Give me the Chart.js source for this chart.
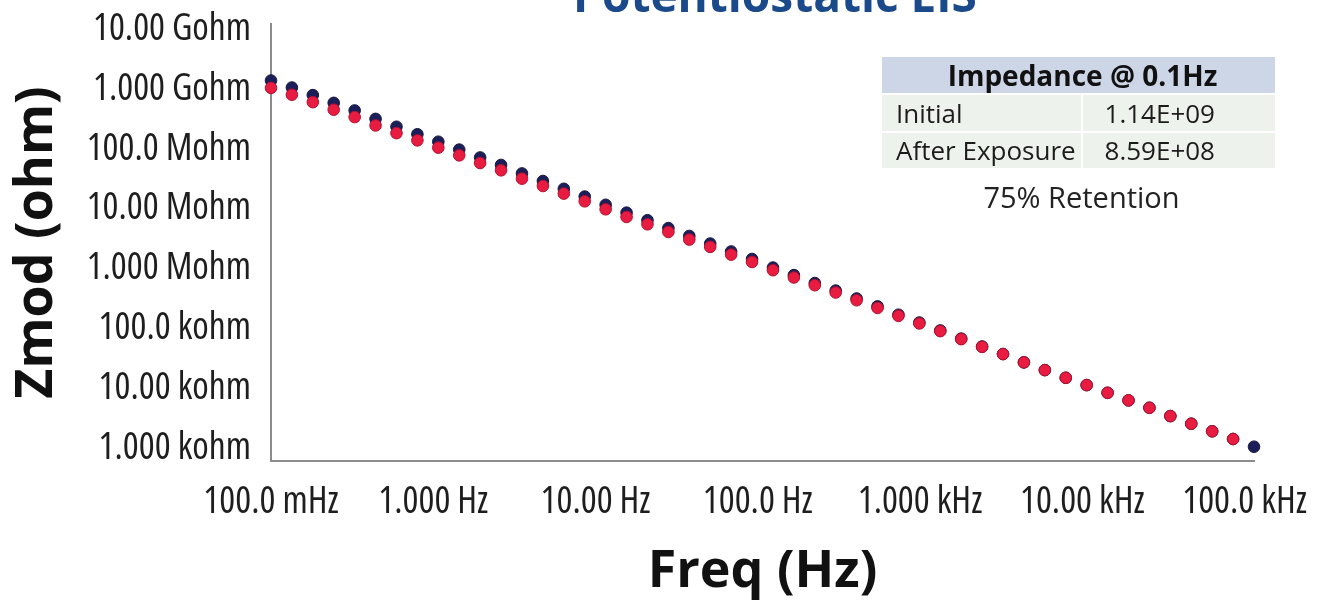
<!DOCTYPE html>
<html>
<head>
<meta charset="utf-8">
<script src="https://cdn.jsdelivr.net/npm/chart.js@4.4.1/dist/chart.umd.min.js"></script>
<style>
  html, body { margin: 0; padding: 0; background: #ffffff; overflow: hidden; }
  #wrap { position: relative; width: 1322px; height: 603px; }
  #plot { position: absolute; left: 0; top: 0; }
  .cell { position: absolute; box-sizing: border-box; font-family: "Open Sans", "Noto Sans", sans-serif; color: #1c1c1c; white-space: nowrap; }
  #hdr { left: 882px; top: 57px; width: 393px; height: 36px; background: #cdd6e7; font-weight: 700; font-size: 28px; line-height: 36px; text-align: center; padding-left: 8px; color: #111; }
  .lab { left: 882px; width: 199px; background: #eef2ec; font-size: 26px; padding-left: 14px; }
  .val { left: 1083px; width: 192px; background: #eef2ec; font-size: 26px; text-align: right; padding-right: 60px; }
  .r1 { top: 95px; height: 36px; line-height: 36px; }
  .r2 { top: 133px; height: 35px; line-height: 35px; }
  #ret { left: 882px; top: 177px; width: 393px; height: 40px; line-height: 40px; text-align: center; font-size: 29px; color: #222; padding-left: 6px; }
</style>
</head>
<body>
<div id="wrap">
  <canvas id="plot" width="1322" height="603"></canvas>
  <div class="cell" id="hdr"></div>
  <div class="cell lab r1" id="lab1"></div>
  <div class="cell val r1" id="val1"></div>
  <div class="cell lab r2" id="lab2"></div>
  <div class="cell val r2" id="val2"></div>
  <div class="cell" id="ret"></div>
</div>
<script>
// Frequencies of the sweep (Hz), plotted on a log axis
const freqHz = [0.1, 0.1345, 0.181, 0.2435, 0.3278, 0.441, 0.5934, 0.7985,
  1.0745, 1.4458, 1.9454, 2.6177, 3.5224, 4.7398, 6.3777, 8.5817,
  11.547, 15.538, 20.907, 28.132, 37.844, 50.923, 68.52, 92.2,
  124.06, 166.93, 224.62, 302.23, 406.68, 547.2, 736.3, 990.6,
  1333, 1794, 2413, 3247, 4369, 5879, 7910, 10644,
  14322, 19272, 25932, 34893, 46952, 63177, 85010, 114390];

// |Z| of the coating before exposure (ohm)
const zmodInitial = [1.14e9, 8.71e8, 6.51e8, 4.83e8, 3.61e8, 2.61e8, 1.93e8, 1.446e8,
  1.086e8, 8.02e7, 5.93e7, 4.45e7, 3.21e7, 2.40e7, 1.78e7, 1.32e7,
  9.62e6, 7.11e6, 5.32e6, 3.93e6, 2.91e6, 2.17e6, 1.60e6, 1.20e6,
  8.63e5, 6.46e5, 4.76e5, 3.56e5, 2.63e5, 1.94e5, 1.41e5, 1.045e5,
  7.71e4, 5.63e4, 4.16e4, 3.12e4, 2.26e4, 1.68e4, 1.25e4, 9.44e3,
  7.02e3, 5.25e3, 3.95e3, 2.87e3, 2.14e3, 1.60e3, 1.19e3, 885];

// |Z| of the coating after exposure (ohm)
const zmodExposed = [8.59e8, 6.61e8, 4.97e8, 3.72e8, 2.80e8, 2.03e8, 1.51e8, 1.144e8,
  8.64e7, 6.43e7, 4.79e7, 3.62e7, 2.63e7, 1.98e7, 1.48e7, 1.10e7,
  8.10e6, 6.03e6, 4.55e6, 3.39e6, 2.53e6, 1.91e6, 1.42e6, 1.07e6,
  7.79e5, 5.89e5, 4.38e5, 3.31e5, 2.46e5, 1.83e5, 1.35e5, 1.008e5,
  7.50e4, 5.52e4, 4.10e4, 3.10e4, 2.26e4, 1.68e4, 1.25e4, 9.44e3,
  7.02e3, 5.25e3, 3.95e3, 2.87e3, 2.14e3, 1.60e3, 1.19e3];

const xTickValues = [0.1, 1, 10, 100, 1000, 10000, 100000];
const xTickLabels = ['100.0 mHz', '1.000 Hz', '10.00 Hz', '100.0 Hz', '1.000 kHz', '10.00 kHz', '100.0 kHz'];
const yTickValues = [1e3, 1e4, 1e5, 1e6, 1e7, 1e8, 1e9, 1e10];
const yTickLabels = ['1.000 kohm', '10.00 kohm', '100.0 kohm', '1.000 Mohm', '10.00 Mohm', '100.0 Mohm', '1.000 Gohm', '10.00 Gohm'];

const seriesNames = ['Initial', 'After Exposure'];
const chartTitle = 'Potentiostatic EIS';

// Summary table at the lowest frequency
function sci(v) {
  const [m, e] = v.toExponential(2).split('e');
  const n = Math.abs(parseInt(e, 10));
  return m + 'E' + (e[0] === '-' ? '-' : '+') + String(n).padStart(2, '0');
}
document.getElementById('hdr').textContent = 'Impedance @ ' + freqHz[0] + 'Hz';
document.getElementById('lab1').textContent = seriesNames[0];
document.getElementById('val1').textContent = sci(zmodInitial[0]);
document.getElementById('lab2').textContent = seriesNames[1];
document.getElementById('val2').textContent = sci(zmodExposed[0]);
document.getElementById('ret').textContent = Math.round(100 * zmodExposed[0] / zmodInitial[0]) + '% Retention';

// Narrow tick lettering: Open Sans in its condensed width
const tickFont = { family: '"Open Sans", "Roboto Condensed", sans-serif', size: 37.5, weight: '400 condensed' };
const titleFont = { family: '"Open Sans", "Noto Sans", sans-serif', size: 52, weight: 'bold' };

function condensedLabels(scale) {
  if (scale.$condensed) return;
  scale.$condensed = true;
  const base = scale.drawLabels.bind(scale);
  scale.drawLabels = function (area) {
    const ctx = this.ctx;
    ctx.save();
    ctx.fontStretch = 'condensed';
    base(area);
    ctx.restore();
  };
}

// Heading sits partly above the canvas edge
const headingPlugin = {
  id: 'heading',
  afterDraw(chart) {
    const ctx = chart.ctx;
    ctx.save();
    ctx.font = 'bold 46px "Open Sans", "Noto Sans", sans-serif';
    ctx.fillStyle = '#1b4a8b';
    ctx.textAlign = 'center';
    ctx.textBaseline = 'alphabetic';
    ctx.fillText(chartTitle, 775, 12);
    ctx.restore();
  }
};

new Chart(document.getElementById('plot'), {
  type: 'scatter',
  data: {
    datasets: [
      {
        label: seriesNames[1],
        data: zmodExposed.map((z, i) => ({ x: freqHz[i], y: z })),
        pointRadius: 5.8,
        pointBorderWidth: 1,
        pointBackgroundColor: '#e81c40',
        pointBorderColor: '#b01030',
        clip: false,
        order: 0
      },
      {
        label: seriesNames[0],
        data: zmodInitial.map((z, i) => ({ x: freqHz[i], y: z })),
        pointRadius: 5.8,
        pointBorderWidth: 1,
        pointBackgroundColor: '#1c1e5a',
        pointBorderColor: '#15173f',
        clip: false,
        order: 1
      }
    ]
  },
  options: {
    responsive: false,
    animation: false,
    devicePixelRatio: 1,
    layout: { padding: { top: 24, right: 68, bottom: 0, left: 0 } },
    plugins: { legend: { display: false }, tooltip: { enabled: false } },
    scales: {
      x: {
        type: 'logarithmic',
        min: freqHz[0],
        max: freqHz[freqHz.length - 1],
        grid: { display: false },
        border: { display: true, color: '#8c8c8c', width: 2 },
        afterBuildTicks: s => { s.ticks = xTickValues.map(v => ({ value: v })); },
        afterFit: s => { s.height = 142; s.paddingLeft = 0; s.paddingRight = 0; condensedLabels(s); },
        ticks: {
          autoSkip: false, maxRotation: 0, padding: 11, color: '#1e1e1e', font: tickFont,
          callback: v => xTickLabels[xTickValues.indexOf(v)]
        },
        title: { display: true, text: 'Freq (Hz)', color: '#111111', font: titleFont, padding: { top: 0, bottom: 0 } }
      },
      y: {
        type: 'logarithmic',
        min: 511,
        max: 1e10,
        grid: { display: false },
        border: { display: true, color: '#8c8c8c', width: 2 },
        afterBuildTicks: s => { s.ticks = yTickValues.map(v => ({ value: v })); },
        afterFit: s => { s.width = 271; s.paddingTop = 0; s.paddingBottom = 0; condensedLabels(s); },
        ticks: {
          autoSkip: false, padding: 12, labelOffset: 5, color: '#1e1e1e', font: tickFont,
          callback: v => yTickLabels[yTickValues.indexOf(v)]
        },
        title: { display: true, text: 'Zmod (ohm)', color: '#111111', font: titleFont, padding: { top: 6, bottom: 0 } }
      }
    }
  },
  plugins: [headingPlugin]
});
</script>
</body>
</html>
